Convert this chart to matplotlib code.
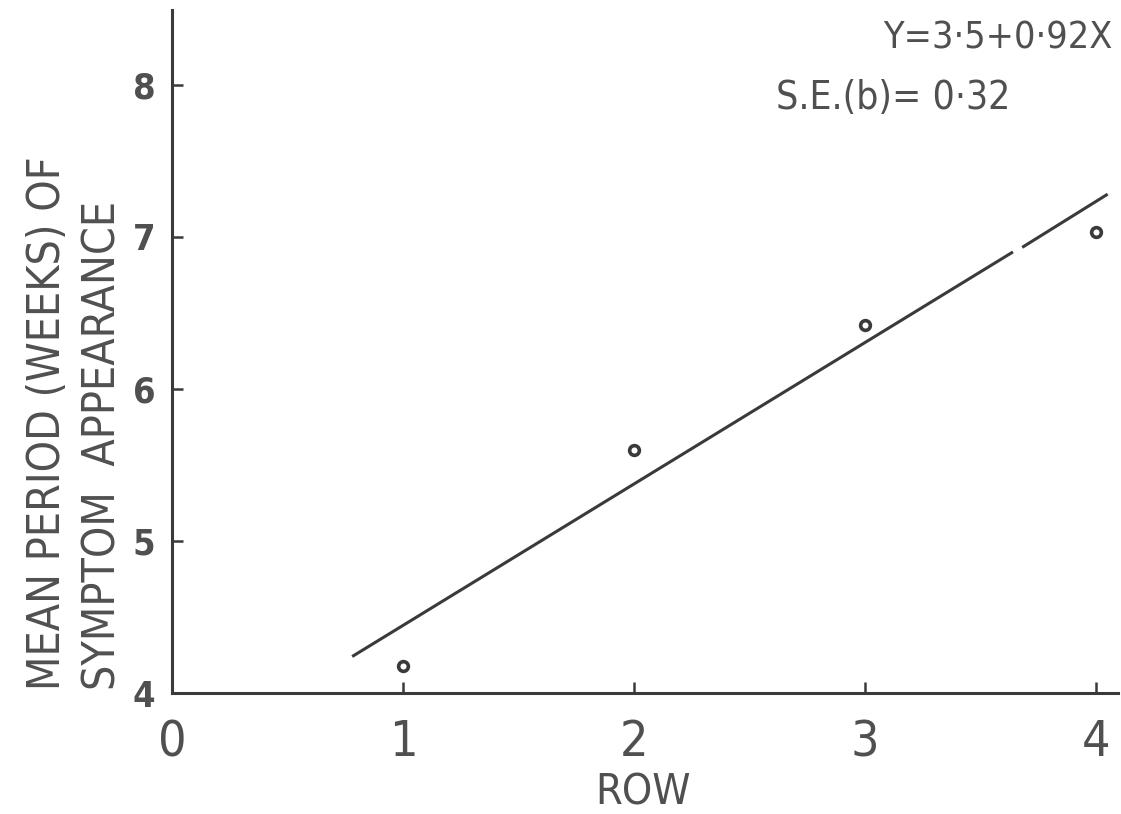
import matplotlib.pyplot as plt

rows = [1, 2, 3, 4]
mean_weeks = [4.18, 5.60, 6.42, 7.03]

# fitted line, drawn with a small break near x=3.65
fit_x1 = [0.78, 3.64]
fit_y1 = [4.24, 6.90]
fit_x2 = [3.68, 4.05]
fit_y2 = [6.93, 7.28]

xticks = [0, 1, 2, 3, 4]
yticks = [4, 5, 6, 7, 8]

ink = '#3a3a3a'
txt = '#505050'
fam = ['DejaVu Sans']
st = 'condensed'

fig = plt.figure(figsize=(11.21, 8.14), dpi=100)
ax = fig.add_axes([0.1534, 0.1486, 0.844, 0.839])

ax.plot(fit_x1, fit_y1, color=ink, lw=2.2, solid_capstyle='butt')
ax.plot(fit_x2, fit_y2, color=ink, lw=2.2, solid_capstyle='butt')
ax.plot(rows, mean_weeks, 'o', ms=7, mfc='white', mec=ink, mew=2.6)

ax.set_xlim(0, 4.095)
ax.set_ylim(4, 8.49)
ax.spines['top'].set_visible(False)
ax.spines['right'].set_visible(False)
for s in ['left', 'bottom']:
    ax.spines[s].set_color(ink)
    ax.spines[s].set_linewidth(2.2)

ax.set_xticks(xticks)
ax.set_yticks(yticks)
ax.tick_params(axis='both', direction='in', length=8, width=1.8, color=ink)
ax.tick_params(axis='x', pad=18)
ax.tick_params(axis='y', pad=12)
for lab in ax.get_xticklabels():
    lab.set_family(fam)
    lab.set_stretch(st)
    lab.set_fontsize(36)
    lab.set_color(txt)
for lab in ax.get_yticklabels():
    lab.set_family(fam)
    lab.set_stretch(st)
    lab.set_fontsize(26)
    lab.set_color(txt)
    lab.set_fontweight('bold')

fig.text(0.574, 0.012, 'ROW', family=fam, stretch=st, fontsize=31, color=txt,
         ha='center', va='baseline')
fig.text(0.042, 0.152, 'MEAN PERIOD (WEEKS) OF', family=fam, stretch=st,
         fontsize=32, color=txt, rotation=90, ha='center', va='bottom')
fig.text(0.092, 0.152, 'SYMPTOM  APPEARANCE', family=fam, stretch=st,
         fontsize=32, color=txt, rotation=90, ha='center', va='bottom')

fig.text(0.992, 0.953, 'Y=3·5+0·92X', family=fam, stretch=st, fontsize=27,
         color=txt, ha='right', va='center')
fig.text(0.692, 0.879, 'S.E.(b)= 0·32', family=fam, stretch=st, fontsize=28,
         color=txt, ha='left', va='center')

fig.savefig('out.png', dpi=100, facecolor='white')
